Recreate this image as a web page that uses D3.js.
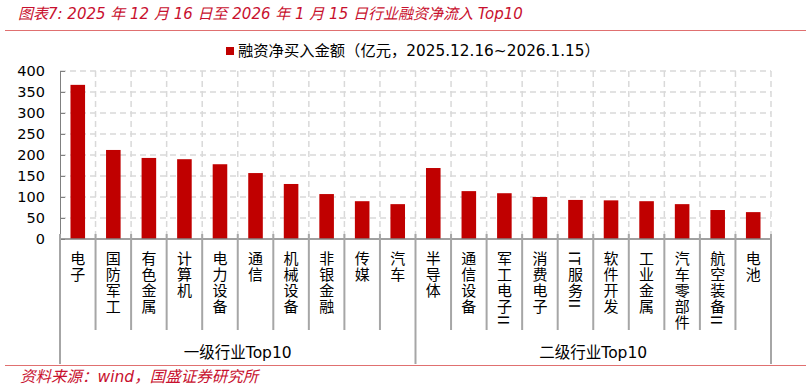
<!DOCTYPE html>
<html>
<head>
<meta charset="utf-8">
<script src="https://cdn.jsdelivr.net/npm/d3@7"></script>
<style>
  body { margin: 0; background: #fff; }
  text { font-family: "DejaVu Sans", "Noto Sans CJK SC", sans-serif; }
</style>
</head>
<body>
<div id="chart"></div>
<script>
let width = 811;
let height = 389;

// data
const industries = ["电子", "国防军工", "有色金属", "计算机", "电力设备", "通信", "机械设备", "非银金融", "传媒", "汽车",
    "半导体", "通信设备", "军工电子II", "消费电子", "IT服务II", "软件开发", "工业金属", "汽车零部件", "航空装备II", "电池"];
const netBuy = [367, 212, 193, 190, 178, 157, 131, 107, 90, 83,
    169, 114, 109, 100, 93, 92, 90, 83, 69, 64];
const groups = ["一级行业Top10", "二级行业Top10"];
const groupSize = 10;
const yTicks = [0, 50, 100, 150, 200, 250, 300, 350, 400];

const plotLeft = 60, plotRight = 771, plotTop = 71, plotBottom = 239;

let svg = d3.select("#chart")
    .append("svg")
    .attr("width", width)
    .attr("height", height);

// title + rule
svg.append("text")
    .attr("x", 18)
    .attr("y", 19)
    .attr("fill", "#c8102e")
    .attr("font-size", 15)
    .attr("font-style", "italic")
    .text("图表7: 2025 年 12 月 16 日至 2026 年 1 月 15 日行业融资净流入 Top10");

svg.append("line")
    .attr("x1", 5).attr("x2", 806)
    .attr("y1", 30.5).attr("y2", 30.5)
    .attr("stroke", "#e07070")
    .attr("stroke-width", 1);

let scaleX = d3.scaleBand()
    .domain(industries)
    .range([plotLeft, plotRight]);

let scaleY = d3.scaleLinear()
    .domain([0, 400])
    .range([plotBottom, plotTop]);

// grid
svg.append("g")
    .selectAll("line.hgrid")
    .data(yTicks.slice(1))
    .join("line")
    .attr("class", "hgrid")
    .attr("x1", plotLeft).attr("x2", plotRight)
    .attr("y1", d => scaleY(d)).attr("y2", d => scaleY(d))
    .attr("stroke", "#d9d9d9")
    .attr("stroke-width", 1.5)
    .attr("stroke-dasharray", "6,4");

svg.append("g")
    .selectAll("line.vgrid")
    .data(d3.range(1, industries.length + 1))
    .join("line")
    .attr("class", "vgrid")
    .attr("x1", d => plotLeft + scaleX.step() * d)
    .attr("x2", d => plotLeft + scaleX.step() * d)
    .attr("y1", plotTop).attr("y2", plotBottom)
    .attr("stroke", "#d9d9d9")
    .attr("stroke-width", 1.5)
    .attr("stroke-dasharray", "6,4");

// bars
let barW = scaleX.bandwidth() * 0.41;
svg.append("g")
    .selectAll("rect")
    .data(industries)
    .join("rect")
    .attr("x", d => scaleX(d) + (scaleX.bandwidth() - barW) / 2)
    .attr("width", barW)
    .attr("y", (d, i) => scaleY(netBuy[i]))
    .attr("height", (d, i) => scaleY(0) - scaleY(netBuy[i]))
    .attr("fill", "#c00000");

// y axis
let yAxis = svg.append("g")
    .attr("transform", "translate(" + plotLeft + ",0)")
    .call(d3.axisRight(scaleY).tickValues(yTicks).tickSize(5).tickFormat(""));
yAxis.selectAll("line, path").attr("stroke", "#808080");

svg.append("g")
    .selectAll("text.ylab")
    .data(yTicks)
    .join("text")
    .attr("class", "ylab")
    .attr("x", 45)
    .attr("y", d => scaleY(d) + 5)
    .attr("text-anchor", "end")
    .attr("font-size", 14.5)
    .attr("fill", "#000")
    .text(d => d);

// x axis line
svg.append("line")
    .attr("x1", plotLeft).attr("x2", plotRight)
    .attr("y1", plotBottom).attr("y2", plotBottom)
    .attr("stroke", "#808080")
    .attr("stroke-width", 1.5);

// separators below axis
svg.append("g")
    .selectAll("line.sep")
    .data(d3.range(industries.length + 1))
    .join("line")
    .attr("class", "sep")
    .attr("x1", d => plotLeft + scaleX.step() * d)
    .attr("x2", d => plotLeft + scaleX.step() * d)
    .attr("y1", plotBottom - 5)
    .attr("y2", d => d % groupSize === 0 ? 364 : 330)
    .attr("stroke", "#a6a6a6")
    .attr("stroke-width", 2);

// category labels, vertical
svg.append("g")
    .selectAll("text.cat")
    .data(industries)
    .join("text")
    .attr("class", "cat")
    .attr("x", d => scaleX(d) + scaleX.bandwidth() / 2)
    .attr("y", 251)
    .attr("font-size", 15)
    .attr("fill", "#000")
    .style("font-family", "'Noto Sans CJK SC', sans-serif")
    .style("writing-mode", "vertical-rl")
    .style("text-orientation", "mixed")
    .style("letter-spacing", "1px")
    .text(d => d);

// group labels
svg.append("g")
    .selectAll("text.grp")
    .data(groups)
    .join("text")
    .attr("class", "grp")
    .attr("x", (d, i) => plotLeft + scaleX.step() * groupSize * (i + 0.5))
    .attr("y", 358)
    .attr("text-anchor", "middle")
    .attr("font-size", 15.5)
    .attr("fill", "#000")
    .text(d => d);

// legend
svg.append("rect")
    .attr("x", 226).attr("y", 47)
    .attr("width", 8).attr("height", 8)
    .attr("fill", "#c00000");
svg.append("text")
    .attr("x", 238)
    .attr("y", 56)
    .attr("font-size", 15.3)
    .attr("fill", "#000")
    .text("融资净买入金额（亿元，2025.12.16~2026.1.15）");

// bottom rule + source
svg.append("line")
    .attr("x1", 5).attr("x2", 806)
    .attr("y1", 365.5).attr("y2", 365.5)
    .attr("stroke", "#e07070")
    .attr("stroke-width", 1);

svg.append("text")
    .attr("x", 20)
    .attr("y", 382)
    .attr("fill", "#c8102e")
    .attr("font-size", 15.5)
    .attr("font-style", "italic")
    .text("资料来源：wind，国盛证券研究所");
</script>
</body>
</html>
